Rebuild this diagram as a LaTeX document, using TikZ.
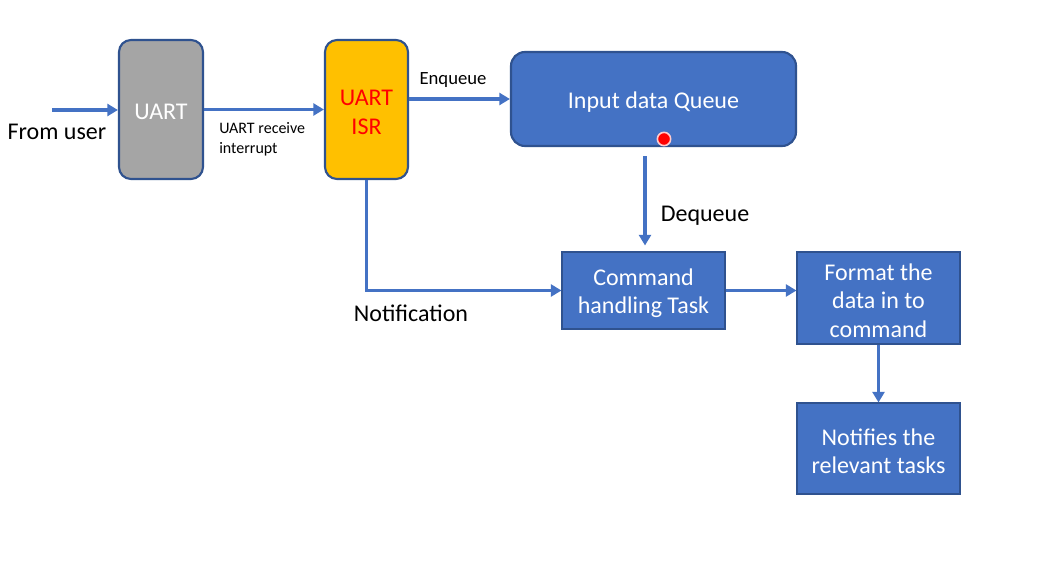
\documentclass[tikz,border=0pt]{standalone}
\usepackage{fontspec}
\setmainfont{Carlito}
\usetikzlibrary{arrows.meta}
\definecolor{bfill}{HTML}{4472C4}
\definecolor{bline}{HTML}{2F528F}
\definecolor{gfill}{HTML}{A5A5A5}
\definecolor{ofill}{HTML}{FFC000}
\newcommand{\dn}[1]{\raisebox{-2pt}[\height][\depth]{#1}}
\tikzset{
  rbox/.style={draw=bline, line width=1.6pt, rounded corners=9pt, inner sep=0pt, align=center, font=\fontsize{18pt}{21.6pt}\selectfont},
  sbox/.style={draw=bline, line width=0.8pt, fill=bfill, text=white, inner sep=0pt, align=center, font=\fontsize{18pt}{21.6pt}\selectfont},
  arr/.style={draw=bfill, line width=2.8pt, -{Triangle[length=8pt,width=9pt]}},
  lbl/.style={text=black, inner sep=0pt, font=\fontsize{18pt}{21.6pt}\selectfont},
}
\begin{document}
\begin{tikzpicture}[x=0.75pt,y=-0.75pt]
\useasboundingbox[fill=white] (0,0) rectangle (1062,574);
% boxes
\node[rbox, fill=gfill, text=white, minimum width=63pt, minimum height=104.25pt] (uart) at (161,109.5) {\dn{UART}};
\node[rbox, fill=ofill, text=red, minimum width=62.25pt, minimum height=104.25pt] (isr) at (366.5,109.5) {\dn{UART}\\\dn{ISR}};
\node[rbox, fill=bfill, text=white, rounded corners=10.5pt, minimum width=213.75pt, minimum height=70.5pt] (queue) at (653.5,99) {\dn{Input data Queue}};
\node[sbox, minimum width=122.25pt, minimum height=57.75pt] (cmd) at (643.5,290.5) {\dn{Command}\\\dn{handling Task}};
\node[sbox, minimum width=122.25pt, minimum height=69pt] (fmt) at (878.5,298) {\dn{Format the}\\\dn{data in to}\\\dn{command}};
\node[sbox, minimum width=122.25pt, minimum height=68.25pt] (notif) at (878.5,448.5) {\dn{Notifies the}\\\dn{relevant tasks}};
% red dot
\node[circle, fill=red, draw=white!80!red, line width=1.2pt, minimum size=10pt, inner sep=0pt] (dot) at (664,139) {};
% connectors
\coordinate (src) at (52,110);
\coordinate (dq) at (645,156);
\draw[arr] (src) -- (src -| uart.west);
\draw[arr] (uart.east) -- (isr.west);
\draw[arr] (isr.east |- queue.west) -- (queue.west);
\draw[arr, shorten >=4.5pt] (dq) -- (dq |- cmd.north);
\draw[arr] (isr.south) |- (cmd.west);
\draw[arr] (cmd.east) -- (cmd.east -| fmt.west);
\draw[arr] (fmt.south) -- (notif.north);
% labels
\node[lbl] (lfrom) at (57,132) {From user};
\node[lbl, anchor=west, align=left, font=\fontsize{12pt}{15pt}\selectfont] (lrecv) at (219,139) {UART receive\\interrupt};
\node[lbl, font=\fontsize{14pt}{16.8pt}\selectfont] (lenq) at (453,80) {Enqueue};
\node[lbl] (ldeq) at (705,216) {Dequeue};
\node[lbl] (lnot) at (411,313) {Notification};
\end{tikzpicture}
\end{document}
